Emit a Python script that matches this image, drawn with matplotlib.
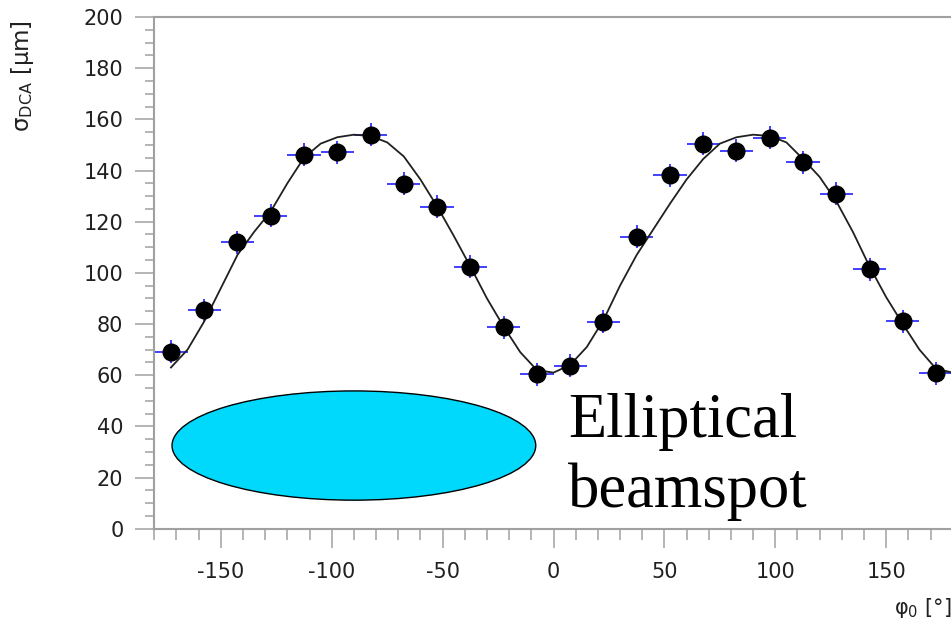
import numpy as np
import matplotlib
matplotlib.use('Agg')
import matplotlib.pyplot as plt
from matplotlib.patches import Ellipse
from matplotlib.ticker import MultipleLocator

plt.rcParams['axes.unicode_minus'] = False

# measured points (bin centres in phi0, sigma_DCA in um)
phi0 = [-172.5, -157.5, -142.5, -127.5, -112.5, -97.5, -82.5, -67.5, -52.5, -37.5, -22.5, -7.5,
        7.5, 22.5, 37.5, 52.5, 67.5, 82.5, 97.5, 112.5, 127.5, 142.5, 157.5, 172.5]
sigma = [69.2, 85.3, 111.9, 122.4, 146.2, 147.1, 154.0, 134.9, 125.8, 102.4, 78.8, 60.4,
         63.7, 80.8, 114.1, 138.2, 150.4, 147.7, 152.8, 143.2, 130.9, 101.4, 81.1, 60.8]
phi_err = [7.5] * len(phi0)
sigma_err = [4.5] * len(phi0)

# fit curve
fit_phi = [-172.5, -165, -157.5, -150, -142.5, -135, -127.5, -120, -112.5, -105, -97.5, -90,
           -82.5, -75, -67.5, -60, -52.5, -45, -37.5, -30, -22.5, -15, -7.5, 0,
           7.5, 15, 22.5, 30, 37.5, 45, 52.5, 60, 67.5, 75, 82.5, 90,
           97.5, 105, 112.5, 120, 127.5, 135, 142.5, 150, 157.5, 165, 172.5, 180]
fit_sigma = [63, 70, 81, 94, 107, 116, 124, 135, 145, 150.5, 153, 154,
             153.5, 151, 145.5, 136.5, 126, 114.5, 102.5, 90, 79, 69, 62, 61,
             64, 71, 81.5, 95, 107, 117, 127, 136.5, 144.5, 150.5, 153, 154,
             153.5, 151, 144.5, 137.5, 128, 116, 102.5, 90.5, 80, 70, 62.5, 61]

gray = '#a0a0a0'

fig = plt.figure(figsize=(9.51, 6.23), dpi=100)
ax = fig.add_axes([154.3 / 951, 94.3 / 623, 798.4 / 951, 511.7 / 623])

ax.errorbar(phi0, sigma, xerr=phi_err, yerr=sigma_err, fmt='none',
            ecolor='#4040ff', elinewidth=1.4, capsize=0, zorder=2)
ax.plot(fit_phi, fit_sigma, color='#202020', lw=1.3, zorder=3)
ax.plot(phi0, sigma, 'o', color='black', ms=12, zorder=4)

# beamspot sketch
ax.add_patch(Ellipse((-90, 32.5), 164, 42.7, facecolor='#00d8fc',
                     edgecolor='black', lw=1.0, zorder=1))

ax.set_xlim(-180, 180)
ax.set_ylim(0, 200)
ax.xaxis.set_major_locator(MultipleLocator(50))
ax.xaxis.set_minor_locator(MultipleLocator(10))
ax.yaxis.set_major_locator(MultipleLocator(20))
ax.yaxis.set_minor_locator(MultipleLocator(5))

for s in ['left', 'bottom', 'top', 'right']:
    ax.spines[s].set_color(gray)
    ax.spines[s].set_linewidth(1.5)

ax.tick_params(axis='x', which='major', direction='out', length=14, width=1.1,
               color=gray, pad=10, labelsize=15, labelcolor='#202020')
ax.tick_params(axis='x', which='minor', direction='out', length=8, width=1.1, color=gray)
ax.tick_params(axis='y', which='major', direction='out', length=13.7, width=1.1,
               color=gray, pad=8.5, labelsize=15, labelcolor='#202020')
ax.tick_params(axis='y', which='minor', direction='out', length=6.5, width=1.1, color=gray)

fig.text(23 / 951, 1 - 20 / 623, 'σ$_{\\mathrm{DCA}}$ [μm]', rotation=90,
         ha='center', va='top', fontsize=16.5, color='#202020')
fig.text(1.0, 1 - 608 / 623, 'φ$_{\\mathrm{0}}$ [°]', ha='right', va='center',
         fontsize=15, color='#202020')

fig.text(568 / 951, 1 - 437 / 623, 'Elliptical', family='Liberation Serif',
         fontsize=45, va='baseline', ha='left')
fig.text(568 / 951, 1 - 506.7 / 623, 'beamspot', family='Liberation Serif',
         fontsize=45, va='baseline', ha='left')

fig.savefig('out.png', dpi=100)
